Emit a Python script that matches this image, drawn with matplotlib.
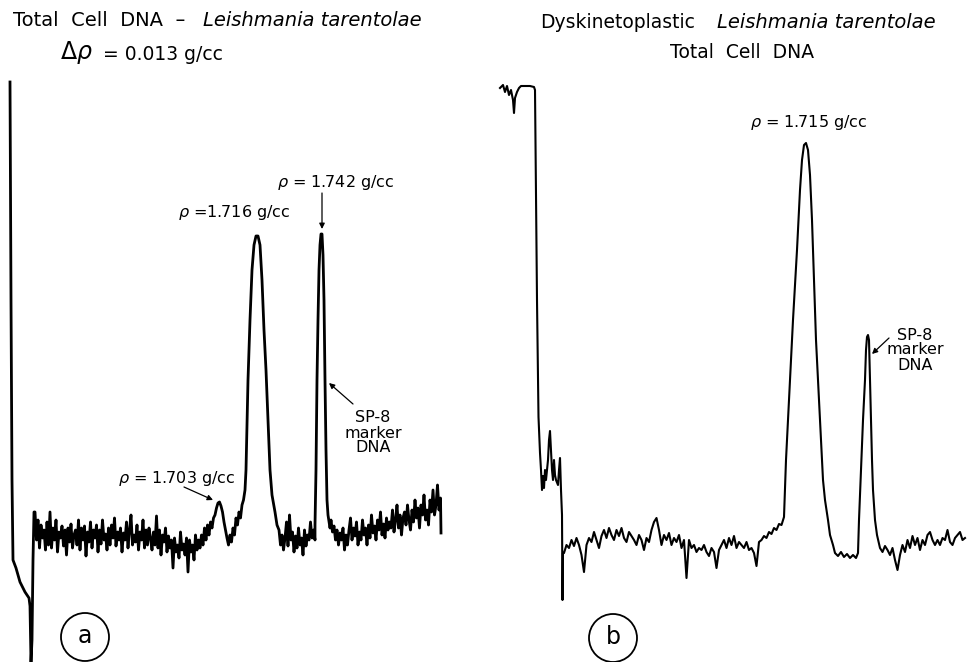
import numpy as np
import matplotlib.pyplot as plt
from matplotlib.patches import Circle

# Densitometer tracings of CsCl gradients. Positions are chart positions along
# the cell, values are pen positions on the chart (measured downward).

# ---- trace (a): total cell DNA ----
a_menisc_x = [10, 11, 12, 13, 16, 20, 25, 29, 30, 31, 32, 33, 34]
a_menisc_y = [82, 300, 480, 560, 568, 582, 592, 598, 606, 662, 640, 560, 512]

# baseline from the meniscus up to the main band, sampled every 1.5 units from 35
a_base1 = [512, 540, 520, 548, 525, 538, 530, 550, 522, 545,
           512, 548, 528, 540, 520, 552, 532, 538, 526, 546,
           530, 555, 528, 542, 524, 548, 535, 530, 545, 520,
           550, 528, 540, 526, 556, 532, 542, 522, 548, 530,
           538, 525, 552, 530, 544, 520, 540, 534, 550, 528,
           545, 525, 538, 518, 546, 532, 540, 528, 552, 533,
           540, 522, 548, 530, 515, 545, 535, 542, 525, 550,
           532, 540, 520, 548, 530, 545, 528, 538, 550, 532,
           545, 516, 548, 530, 555, 535, 542, 528, 552, 536,
           548, 540, 568, 538, 552, 545, 558, 532, 550, 544,
           555, 538, 572, 540, 552, 545, 560, 535, 550, 540,
           548, 535, 545, 528, 540, 525, 535, 522, 528, 518,
           515, 508, 503, 502, 506, 512, 522, 530, 538, 545,
           535, 542, 528, 535, 518, 525, 512, 518, 505, 500, 490]

# main band, rho = 1.716
a_main_x = [246, 248, 250, 252, 254, 256, 258, 260, 262, 264, 266, 268, 270, 272, 275, 277, 279]
a_main_y = [470, 380, 320, 270, 245, 236, 236, 245, 280, 330, 370, 420, 470, 495, 512, 525, 530]

# between the bands, every 1.5 units from 280.5
a_base2 = [545, 535, 550, 538, 522, 546, 515, 540, 532, 552, 536, 548,
           528, 545, 538, 555, 530, 546, 535, 540, 522, 538, 530, 540]

# SP-8 marker band, rho = 1.742
a_mark_x = [315, 316, 317, 318, 319, 320, 321, 322, 323, 324, 325, 326, 327, 328, 330]
a_mark_y = [525, 470, 380, 320, 270, 245, 234, 234, 255, 300, 380, 450, 500, 515, 528]

# heavy side baseline, every 1.5 units from 331
a_base3 = [520, 532, 526, 540, 530, 545, 533, 540, 528, 550,
           535, 545, 530, 518, 540, 528, 536, 522, 545, 532,
           540, 520, 535, 528, 545, 525, 538, 515, 533, 526,
           540, 520, 530, 512, 535, 524, 538, 518, 530, 522,
           528, 510, 532, 520, 505, 528, 515, 535, 518, 512,
           525, 505, 520, 530, 510, 522, 500, 518, 508, 528,
           505, 515, 495, 520, 510, 525, 500, 512, 490, 515, 505, 485, 510]
a_end_x = [440.5, 441]
a_end_y = [498, 533]

# ---- trace (b): dyskinetoplastic total cell DNA ----
b_menisc_x = [500, 503, 505, 507, 509, 511, 513, 514, 515, 517, 519, 521, 525, 530, 534,
              535, 536, 537, 538, 538.5, 540, 541, 542, 543, 544, 545, 546, 548, 549, 550,
              551, 552, 553, 554, 555, 556, 558, 559, 560, 561, 562, 562.5, 563]
b_menisc_y = [88, 85, 92, 86, 95, 90, 100, 113, 98, 92, 88, 86, 86, 86, 87,
              90, 200, 300, 380, 417, 453, 470, 490, 476, 488, 470, 480, 460, 440, 431,
              450, 470, 480, 460, 475, 480, 485, 470, 458, 490, 515, 600, 553]

# baseline, every 2.5 units from 564
b_base1 = [553, 545, 548, 540, 546, 538, 545, 555, 572, 545,
           538, 542, 532, 540, 548, 536, 530, 538, 528, 535,
           540, 530, 536, 528, 538, 542, 532, 536, 540, 545,
           535, 540, 550, 538, 542, 530, 522, 518, 530, 545,
           535, 540, 533, 545, 538, 542, 535, 548, 540, 578,
           540, 548, 545, 552, 548, 550, 545, 552, 556, 548,
           552, 568, 550, 545, 540, 548, 538, 545, 536, 548,
           542, 545, 548, 542, 550, 548, 553, 566, 542, 540,
           536, 538, 532, 534, 528, 530, 524, 525, 517]

# main band, rho = 1.715, then SP-8 marker
b_main_x = [785, 786, 787, 789, 790, 793, 797, 800, 802, 804, 806, 808, 810, 812, 814, 816,
            818, 820, 822, 823, 825, 828, 830, 833, 835, 838, 841, 844, 847, 850, 853, 856, 858]
b_main_y = [490, 460, 440, 400, 380, 320, 250, 190, 160, 145, 143, 150, 175, 220, 280, 340,
            380, 420, 460, 480, 500, 520, 535, 545, 553, 556, 552, 557, 554, 558, 555, 558, 553]
b_mark_x = [859, 861, 863, 865, 866, 867, 868, 869, 870, 871, 872, 873, 875, 877]
b_mark_y = [520, 470, 420, 380, 350, 337, 335, 340, 380, 420, 460, 490, 520, 535]

# heavy side baseline, every 2.5 units from 880
b_base2 = [548, 552, 546, 550, 555, 548, 560, 570, 555, 545, 552, 540, 548, 536, 545,
           538, 550, 540, 545, 535, 532, 540, 545, 540, 545, 538, 540, 530, 542, 545,
           538, 535, 532, 540, 538]


def steps(start, step, vals):
    return start + step * np.arange(len(vals))


trace_a_x = np.concatenate([a_menisc_x, steps(35, 1.5, a_base1), a_main_x,
                            steps(280.5, 1.5, a_base2), a_mark_x,
                            steps(331, 1.5, a_base3), a_end_x])
trace_a_y = np.concatenate([a_menisc_y, a_base1, a_main_y, a_base2, a_mark_y,
                            a_base3, a_end_y])
trace_b_x = np.concatenate([b_menisc_x, steps(564, 2.5, b_base1), b_main_x, b_mark_x,
                            steps(880, 2.5, b_base2)])
trace_b_y = np.concatenate([b_menisc_y, b_base1, b_main_y, b_mark_y, b_base2])

fig = plt.figure(figsize=(9.67, 6.62), dpi=100)
ax = fig.add_axes([0, 0, 1, 1])
ax.set_xlim(0, 967)
ax.set_ylim(662, 0)
ax.axis("off")

ax.plot(trace_a_x, trace_a_y, color="black", lw=2.0, solid_joinstyle="round")
ax.plot(trace_b_x, trace_b_y, color="black", lw=1.5, solid_joinstyle="round")

txt = dict(color="black", va="center", ha="left")

# headings
ax.text(13, 21, "Total  Cell  DNA  \u2013", fontsize=14, **txt)
ax.text(203, 21, "Leishmania tarentolae", fontsize=14, style="italic", **txt)
ax.text(60, 52, r"$\Delta\rho$", fontsize=17, **txt)
ax.text(103, 54, "= 0.013 g/cc", fontsize=13.5, **txt)

ax.text(540, 23, "Dyskinetoplastic", fontsize=13.5, **txt)
ax.text(717, 23, "Leishmania tarentolae", fontsize=14, style="italic", **txt)
ax.text(742, 53, "Total  Cell  DNA", fontsize=13.5, color="black", ha="center", va="center")

# band labels
ax.text(277, 183, r"$\rho$ = 1.742 g/cc", fontsize=11.5, **txt)
ax.text(178, 213, r"$\rho$ =1.716 g/cc", fontsize=11.5, **txt)
ax.text(118, 478, r"$\rho$ = 1.703 g/cc", fontsize=11.5, **txt)
ax.text(750, 123, r"$\rho$ = 1.715 g/cc", fontsize=11.5, **txt)
ax.text(373, 433, "SP-8\nmarker\nDNA", fontsize=11.5, ha="center", va="center", linespacing=1.0)
ax.text(915, 350, "SP-8\nmarker\nDNA", fontsize=11.5, ha="center", va="center", linespacing=1.0)

arrow = dict(arrowstyle="-|>", lw=0.9, color="black", mutation_scale=8, shrinkA=0, shrinkB=0)
ax.annotate("", xy=(322, 229), xytext=(322, 193), arrowprops=arrow)
ax.annotate("", xy=(213, 500), xytext=(184, 487), arrowprops=arrow)
ax.annotate("", xy=(329, 383), xytext=(353, 404), arrowprops=arrow)
ax.annotate("", xy=(872, 354), xytext=(889, 338), arrowprops=arrow)

# panel letters
for cx, cy, letter in [(85, 637, "a"), (613, 638, "b")]:
    ax.add_patch(Circle((cx, cy), 24, fill=False, lw=1.3, color="black"))
    ax.text(cx, cy - 1, letter, fontsize=17, ha="center", va="center")

fig.savefig("out.png", dpi=100)
